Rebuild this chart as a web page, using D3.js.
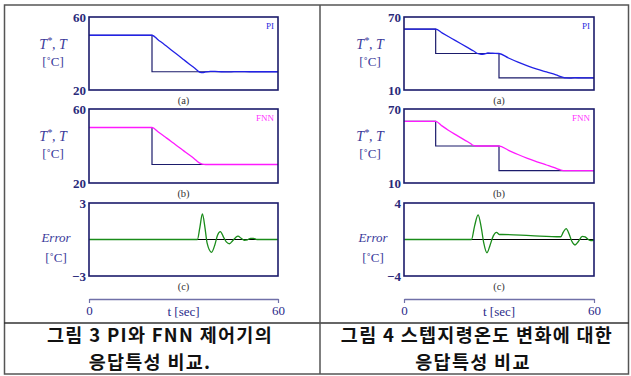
<!DOCTYPE html>
<html><head><meta charset="utf-8">
<script src="https://cdn.jsdelivr.net/npm/d3@7/dist/d3.min.js"></script>
<style>body{margin:0;background:#fff}svg{display:block}
svg text.sf{font-family:"Liberation Serif","Times New Roman",Times,"Noto Serif","DejaVu Serif",serif}
svg text.kr{font-family:"Noto Sans CJK KR",sans-serif;font-weight:bold}
</style>
</head><body>
<svg id="c" width="631" height="376"></svg>
<script>
// ---- data ----
const tDomain = [0, 60];
const xTicks = [0, 60];
const leftTempTicks = [20, 60];
const rightTempTicks = [10, 70];
const leftErrTicks = [-3, 3];
const rightErrTicks = [-4, 4];

// Fig 3: reference step and responses
const leftRef = [[0,50],[20,50],[20,30],[60,30]];
const leftPI = [[0,50],[20,50],[22,47.4],[24,44.8],[26,42.1],[28,39.4],[30,36.7],[32,34],[33.5,32],[34.6,30.4],[35.3,29.6],[36,29.5],[37,29.9],[38.5,30.25],[40,30.2],[42,30.0],[44,29.9],[46,30.05],[48,30.1],[51,30],[60,30]];
const leftFNN = [[0,50],[20,50],[22,47.6],[24,45.1],[26,42.6],[28,40],[30,37.5],[32,35],[33.5,33],[34.5,31.5],[35.5,30.5],[36.5,30.1],[37.5,30],[60,30]];
const leftErr = [[0,0],[34.4,0],[35.2,1.0],[36,2.1],[36.8,1.0],[37.5,-0.3],[38.9,-1.05],[40,-0.4],[40.8,0.35],[41.7,0.65],[42.7,0.2],[43.6,-0.2],[44.6,-0.35],[45.6,-0.1],[46.5,0.15],[47.3,0.28],[48.3,0.1],[49.3,-0.06],[50.3,-0.03],[51.3,0.1],[52.2,0.1],[53.3,0],[55,0],[60,0]];

// Fig 4: staircase reference and responses
const rightRef = [[0,60],[10,60],[10,40],[30,40],[30,20],[60,20]];
const rightPI = [[0,60],[10,60],[12,57],[14,54],[16,51],[18,48],[20,45],[22,42],[23.2,40],[24.3,39.4],[25.3,39.6],[26.5,40.4],[28,40.2],[30,40],[33,36.3],[36,32.9],[39,29.9],[42,27.2],[45,24.8],[48,22.4],[50,20.6],[51.2,19.9],[52.5,19.8],[54,20.1],[56,20],[60,20]];
const rightFNN = [[0,60],[10,60],[12,56.3],[14,52.8],[16,49.6],[18,46.6],[20,43.6],[21,42],[21.8,40.6],[22.8,40],[30,40],[33,36.5],[36,33.1],[39,30],[42,27.2],[45,24.6],[47.5,22.4],[49,21],[50.3,20.1],[51.5,20],[60,20]];
const rightErr = [[0,0],[21.3,0],[22.3,1.5],[23.4,2.7],[24.4,1.3],[25.2,-0.4],[26.2,-1.45],[27.2,-0.6],[28.2,0.4],[29.2,0.78],[30.2,0.55],[31,0.55],[40,0.42],[49.5,0.3],[50.3,0.8],[51.2,1.2],[52.2,0.55],[53,-0.2],[54,-0.6],[55,-0.25],[56.3,0.35],[57.2,0.28],[58.2,0],[59,-0.12],[60,-0.08]];

const errLabel = "Error";
const unitLabel = "[˚C]";
const subLabels = ["(a)", "(b)", "(c)"];
const xLabel = "t [sec]";
const captions = [["그림 3 PI와 FNN 제어기의", "응답특성 비교."], ["그림 4 스텝지령온도 변화에 대한", "응답특성 비교"]];

// ---- drawing ----
const svg = d3.select("#c");
const NAVY = "#1b1b6b", TICK = "#2a2a7a", LBL = "#3a3a9a";

svg.append("rect").attr("x",4.5).attr("y",5).attr("width",624).attr("height",369)
  .attr("fill","none").attr("stroke","#555").attr("stroke-width",1.5);
svg.append("line").attr("x1",4).attr("x2",629).attr("y1",323).attr("y2",323).attr("stroke","#333").attr("stroke-width",1.5);
svg.append("line").attr("x1",320).attr("x2",320).attr("y1",5).attr("y2",374).attr("stroke","#555").attr("stroke-width",1.5);

const rows = [[17,90],[109,183],[203,276]];

function txt(x, y, s, size, fill, anchor){
  return svg.append("text").attr("class","sf").attr("x",x).attr("y",y)
    .attr("text-anchor",anchor||"middle").style("font-size",size+"px").attr("fill",fill).text(s);
}

function panel(px0, px1, labelCx, tTicks, eTicks, ref, pi, fnn, err, clipId){
  const x = d3.scaleLinear().domain(tDomain).range([px0, px1]);
  const series = [
    {ticks:tTicks, lines:[{d:ref,c:NAVY,w:1.2,curve:d3.curveLinear},{d:pi,c:"#2222e6",w:1.3,curve:d3.curveMonotoneX}], tag:"PI", tagC:"#2a2ae0"},
    {ticks:tTicks, lines:[{d:ref,c:NAVY,w:1.2,curve:d3.curveLinear},{d:fnn,c:"#ff1aff",w:1.3,curve:d3.curveMonotoneX}], tag:"FNN", tagC:"#ff33ff"},
    {ticks:eTicks, lines:[{d:[[0,0],[60,0]],c:"#000",w:1.2,curve:d3.curveLinear},{d:err,c:"#1a8c1a",w:1.3,curve:d3.curveMonotoneX}], tag:null}
  ];
  series.forEach((s,i)=>{
    const [y0,y1] = rows[i];
    const y = d3.scaleLinear().domain(s.ticks).range([y1, y0]);
    const id = clipId+i;
    svg.append("clipPath").attr("id",id).append("rect")
      .attr("x",px0).attr("y",y0).attr("width",px1-px0).attr("height",y1-y0);
    const g = svg.append("g").attr("clip-path",`url(#${id})`);
    s.lines.forEach(l=>{
      g.append("path").attr("d", d3.line().x(d=>x(d[0])).y(d=>y(d[1])).curve(l.curve)(l.d))
        .attr("fill","none").attr("stroke",l.c).attr("stroke-width",l.w);
    });
    svg.append("rect").attr("x",px0).attr("y",y0).attr("width",px1-px0).attr("height",y1-y0)
      .attr("fill","none").attr("stroke",NAVY).attr("stroke-width",1.6);
    const ax = svg.append("g").attr("transform",`translate(${px0-1},0)`)
      .call(d3.axisLeft(y).tickValues(s.ticks).tickSize(0).tickPadding(2).tickFormat(d3.format("d")));
    ax.select(".domain").remove();
    ax.attr("font-family",null).attr("font-size",null);
    ax.selectAll("text").attr("class","sf").style("font-size","13px").style("font-weight","bold").attr("fill",TICK);
    if(s.tag){
      txt(px1-4, y0+12, s.tag, 9, s.tagC, "end");
    }
    txt((px0+px1)/2, y1+14, subLabels[i], 10.5, "#333");
  });
  [0,1].forEach(i=>{
    const [y0,y1]=rows[i];
    const t = svg.append("text").attr("class","sf").attr("x",labelCx).attr("y",y0+32).attr("text-anchor","middle")
      .style("font-size","14px").style("font-style","italic").attr("fill",LBL);
    t.append("tspan").text("T");
    t.append("tspan").attr("dy",-5).style("font-size","10px").text("*");
    t.append("tspan").attr("dy",5).text(", T");
    txt(labelCx, y0+49, unitLabel, 13, LBL);
  });
  txt(labelCx+3, rows[2][0]+39, errLabel, 13, LBL).style("font-style","italic");
  txt(labelCx+3, rows[2][0]+59, unitLabel, 13, LBL);
  const xa = svg.append("g").attr("transform","translate(0,299)")
    .call(d3.axisBottom(x).tickValues(xTicks).tickSize(4).tickSizeOuter(0).tickPadding(3));
  xa.attr("font-family",null).attr("font-size",null);
  xa.select(".domain").attr("stroke","#7070a8").attr("stroke-width",1.5);
  xa.selectAll("line").attr("stroke","#7070a8").attr("stroke-width",1.2);
  xa.selectAll("text").attr("class","sf").style("font-size","13px").attr("fill","#2a2a8a");
  txt((px0+px1)/2, 316, xLabel, 13, "#2a2a8a");
}

panel(89, 278, 53, leftTempTicks, leftErrTicks, leftRef, leftPI, leftFNN, leftErr, "cl");
panel(404, 594, 370, rightTempTicks, rightErrTicks, rightRef, rightPI, rightFNN, rightErr, "cr");

const capX = [[160,150],[477,473]];
captions.forEach((c,i)=>{
  c.forEach((line,j)=>{
    svg.append("text").attr("class","kr").attr("x",capX[i][j]).attr("y",342+j*27).attr("text-anchor","middle")
      .style("font-size","18.5px").style("letter-spacing","1.3px").attr("fill","#111").text(line);
  });
});
</script>
</body></html>
